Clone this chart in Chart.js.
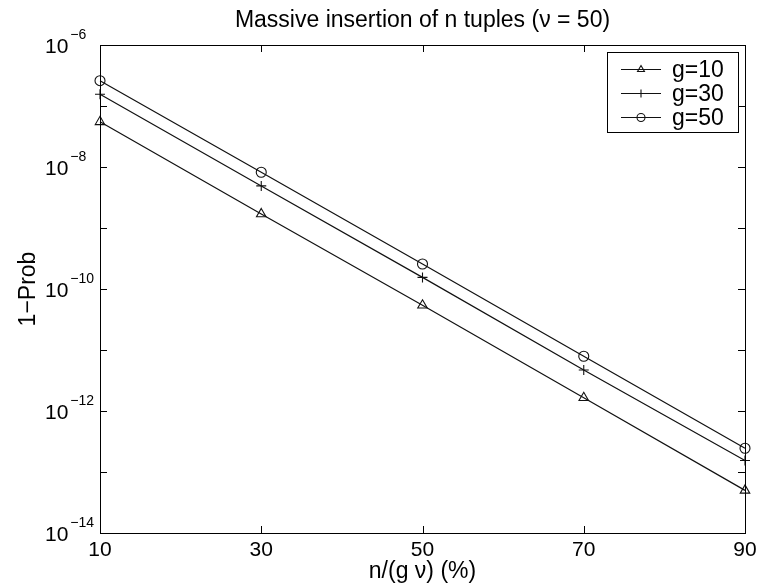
<!DOCTYPE html>
<html>
<head>
<meta charset="utf-8">
<script src="https://cdn.jsdelivr.net/npm/chart.js@4.4.1/dist/chart.umd.min.js"></script>
<style>
  html, body { margin: 0; padding: 0; background: #fff; }
  #wrap { width: 769px; height: 588px; }
</style>
</head>
<body>
<div id="wrap"><canvas id="chart" width="769" height="588"></canvas></div>
<script>
// data
const xValues = [10, 30, 50, 70, 90];
const g10 = [5.5e-8, 1.7e-9, 5.4e-11, 1.65e-12, 5.0e-14];
const g30 = [1.56e-7, 4.9e-9, 1.55e-10, 4.7e-12, 1.54e-13];
const g50 = [2.6e-7, 8.2e-9, 2.57e-10, 7.9e-12, 2.45e-13];
const seriesLabels = ['g=10', 'g=30', 'g=50'];
const seriesMarkers = ['triangle', 'cross', 'circle'];
const xTicks = [10, 30, 50, 70, 90];
const yLabelExponents = [-6, -8, -10, -12, -14];
const yMinorExponents = [-7, -9, -11, -13];

const titleText = 'Massive insertion of n tuples (\u03bd = 50)';
const xTitle = 'n/(g \u03bd) (%)';
const yTitle = '1\u2212Prob';
const FONT = "'Liberation Sans', Arial, sans-serif";

function toPoints(ys) {
  return xValues.map((x, i) => ({ x: x, y: ys[i] }));
}

function makeSet(label, ys, marker) {
  return {
    label: label,
    data: toPoints(ys),
    borderColor: '#111',
    borderWidth: 1.2,
    pointStyle: marker,
    pointRadius: marker === 'triangle' ? 5.5 : 5,
    pointBorderWidth: 1.1,
    pointBorderColor: '#111',
    pointBackgroundColor: 'rgba(0,0,0,0)',
    tension: 0,
    clip: false
  };
}

// axes box, inward ticks, labels, legend - matlab look
const matlabFrame = {
  id: 'matlabFrame',
  beforeDraw(chart) {
    const c = chart.ctx;
    c.save();
    c.fillStyle = '#fff';
    c.fillRect(0, 0, chart.width, chart.height);
    c.restore();
  },
  afterDraw(chart) {
    const c = chart.ctx;
    const a = chart.chartArea;
    const xs = chart.scales.x;
    const ys = chart.scales.y;
    const tick = 7;
    c.save();
    c.strokeStyle = '#000';
    c.fillStyle = '#000';
    c.lineWidth = 1;

    // frame
    c.strokeRect(a.left + 0.5, a.top + 0.5, a.right - a.left, a.bottom - a.top);

    // x ticks (top & bottom, inward)
    c.beginPath();
    xTicks.forEach(v => {
      const px = Math.round(xs.getPixelForValue(v)) + 0.5;
      c.moveTo(px, a.bottom); c.lineTo(px, a.bottom - tick);
      c.moveTo(px, a.top); c.lineTo(px, a.top + tick);
    });
    // y ticks every decade
    yLabelExponents.concat(yMinorExponents).forEach(e => {
      const py = Math.round(ys.getPixelForValue(Math.pow(10, e))) + 0.5;
      c.moveTo(a.left, py); c.lineTo(a.left + tick, py);
      c.moveTo(a.right, py); c.lineTo(a.right - tick, py);
    });
    c.stroke();

    // x tick labels
    c.font = '21px ' + FONT;
    c.textAlign = 'center';
    c.textBaseline = 'middle';
    xTicks.forEach(v => {
      c.fillText(String(v), xs.getPixelForValue(v), a.bottom + 17);
    });

    // y tick labels 10^e
    yLabelExponents.forEach(e => {
      const py = ys.getPixelForValue(Math.pow(10, e));
      c.font = '21px ' + FONT;
      c.textAlign = 'left';
      c.textBaseline = 'middle';
      c.fillText('10', 45, py + 2);
      const w = c.measureText('10').width;
      c.font = '14px ' + FONT;
      c.fillText('\u2212' + Math.abs(e), 45 + w + 2, py - 10);
    });

    // titles
    const cx = (a.left + a.right) / 2;
    c.font = '23px ' + FONT;
    c.textAlign = 'center';
    c.textBaseline = 'middle';
    c.fillText(titleText, cx, 21);
    c.fillText(xTitle, cx, a.bottom + 39);
    c.save();
    c.translate(29, (a.top + a.bottom) / 2);
    c.rotate(-Math.PI / 2);
    c.fillText(yTitle, 0, 0);
    c.restore();

    // legend box
    const lx = 607, ly = 52, lw = 131, lh = 80;
    c.fillStyle = '#fff';
    c.fillRect(lx, ly, lw, lh);
    c.strokeStyle = '#000';
    c.strokeRect(lx + 0.5, ly + 0.5, lw, lh);
    chart.data.datasets.forEach((ds, i) => {
      const ry = ly + 17.5 + i * 24;
      c.strokeStyle = '#111';
      c.lineWidth = 1.2;
      c.beginPath();
      c.moveTo(lx + 14, ry); c.lineTo(lx + 54, ry);
      c.stroke();
      c.lineWidth = 1.1;
      c.fillStyle = 'rgba(0,0,0,0)';
      Chart.helpers.drawPoint(c, { pointStyle: ds.pointStyle, radius: 4, rotation: 0, borderWidth: 1.1 }, lx + 34, ry);
      c.fillStyle = '#000';
      c.font = '23px ' + FONT;
      c.textAlign = 'left';
      c.textBaseline = 'middle';
      c.fillText(ds.label, lx + 65, ry + 1);
    });
    c.restore();
  }
};

new Chart(document.getElementById('chart'), {
  type: 'line',
  data: {
    datasets: [
      makeSet(seriesLabels[0], g10, seriesMarkers[0]),
      makeSet(seriesLabels[1], g30, seriesMarkers[1]),
      makeSet(seriesLabels[2], g50, seriesMarkers[2])
    ]
  },
  options: {
    responsive: false,
    animation: false,
    layout: { padding: { left: 100, right: 24, top: 45, bottom: 55 } },
    scales: {
      x: { type: 'linear', min: 10, max: 90, display: false },
      y: { type: 'logarithmic', min: 1e-14, max: 1e-6, display: false }
    },
    plugins: {
      legend: { display: false },
      title: { display: false },
      tooltip: { enabled: false }
    }
  },
  plugins: [matlabFrame]
});
</script>
</body>
</html>
